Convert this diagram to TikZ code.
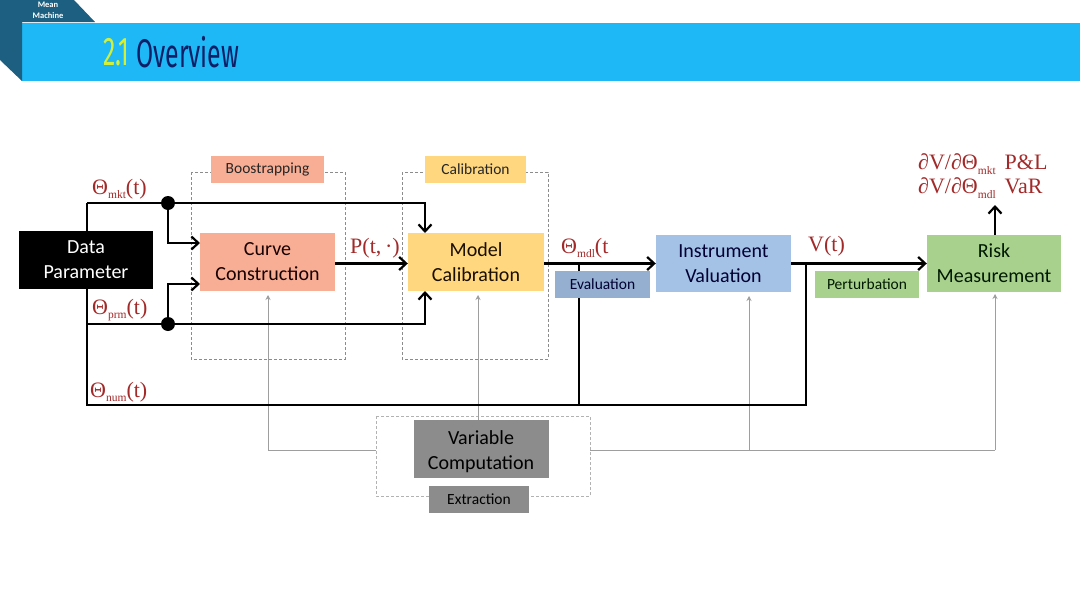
\documentclass[tikz,border=0pt]{standalone}
\usepackage{fontspec}
\setmainfont{Carlito}
\newfontfamily\lserif{Liberation Serif}
\newfontfamily\titlefont{Fira Sans}[FakeStretch=0.62]
\usetikzlibrary{arrows.meta,calc}
\newcommand{\lowtxt}[1]{\raisebox{-4.5pt}{\fontsize{11.5}{11.5}\selectfont #1}}
\definecolor{banner}{HTML}{1FB8F6}
\definecolor{tealdark}{HTML}{1D5F80}
\definecolor{navytitle}{HTML}{0B1F66}
\definecolor{limetitle}{HTML}{D2F03A}
\definecolor{redlabel}{HTML}{A32A2A}
\definecolor{salmon}{HTML}{F8AE95}
\definecolor{amber}{HTML}{FFD77F}
\definecolor{bluebox}{HTML}{A4C2E6}
\definecolor{greenbox}{HTML}{A9D18E}
\definecolor{greybox}{HTML}{8C8C8C}
\tikzset{
  x=1pt,y=-1pt,
  mainbox/.style={rectangle,inner sep=0pt,minimum width=135pt,minimum height=58pt,align=center,font=\fontsize{20}{25}\selectfont},
  tagbox/.style={rectangle,inner sep=0pt,minimum height=27pt,font=\fontsize{15.5}{16}\selectfont},
  groupbox/.style={draw=black!45,densely dashed,line width=0.6pt},
  flow/.style={draw=black,line width=2.2pt,-{Straight Barb[length=7pt,width=13pt,line width=2.2pt]}},
  plain/.style={draw=black,line width=2.2pt},
  link/.style={draw=black!38,line width=0.8pt,-{Stealth[length=5pt,width=5pt]}},
  linkplain/.style={draw=black!38,line width=0.8pt},
  dot/.style={circle,fill=black,inner sep=0pt,minimum size=14pt},
  vallabel/.style={text=redlabel,inner sep=0pt,font=\lserif\fontsize{22}{24}\selectfont,anchor=west},
}
\begin{document}
\begin{tikzpicture}
\useasboundingbox (0,0) rectangle (1080,608);
\fill[white] (0,0) rectangle (1080,608);
% header
\fill[banner] (22,23) rectangle (1080,81);
\fill[tealdark] (0,0) -- (74,0) -- (95,22) -- (22,22) -- (22,81) -- (0,60) -- cycle;
\node[text=white,inner sep=0pt,align=center,font=\bfseries\fontsize{8.5}{11}\selectfont] (brand) at (48,10) {Mean\\Machine};
\node[inner sep=0pt,anchor=west,text=limetitle,font=\titlefont\fontsize{40}{42}\selectfont] (titlenum) at (103,52) {2.1};
\node[inner sep=0pt,anchor=west,text=navytitle,font=\titlefont\fontsize{40}{42}\selectfont] (title) at (136,52) {Overview};
% group frames
\draw[groupbox] (191,172) rectangle (345,359);
\draw[groupbox] (402,172) rectangle (548,359);
\draw[groupbox,black!30] (376,416) rectangle (590,496);
% boxes
\node[mainbox,fill=greybox,text=black] (var) at (481,449) {\rule{0pt}{19pt}Variable\\Computation};
\coordinate (varL) at (376,450);
\coordinate (varR) at (590,450);
\node[mainbox,fill=black,text=white,minimum width=134pt] (data) at (86,260) {Data\\Parameter};
\node[mainbox,fill=salmon,text=black!90!red] (curve) at (267.5,262) {Curve\\Construction};
\node[mainbox,fill=amber,text=black!90!orange,minimum width=136pt] (model) at (476,262) {Model\\Calibration};
\node[mainbox,fill=bluebox,text=black!80!blue,minimum height=57pt] (instr) at (723.5,263.5) {Instrument\\Valuation};
\node[mainbox,fill=greenbox,text=black!90!green,minimum width=134pt,minimum height=57pt] (risk) at (994,263.5) {Risk\\Measurement};
% thin links
\coordinate (curvehead) at (268,295);
\coordinate (modelhead) at (478,295);
\coordinate (riskfoot) at (995,450);
\coordinate (riskhead) at (995,294);
\coordinate (instrfoot) at (749,450);
\coordinate (instrhead) at (749,296);
\coordinate (varT) at (478,420);
\draw[link] (varL) -| (curvehead);
\draw[link] (varT) -- (modelhead);
\draw[linkplain] (varR) -- (riskfoot);
\draw[link] (riskfoot) -- (riskhead);
\draw[link] (instrfoot) -- (instrhead);
% black lines
\coordinate (mktT) at (87,203);
\coordinate (prmB) at (87,324);
\coordinate (numB) at (87,405);
\coordinate (modelT) at (425,233);
\coordinate (modelB) at (425,291);
\coordinate (curveU) at (200,243);
\coordinate (curveD) at (200,284);
\coordinate (riskT) at (995,235);
\coordinate (riskOut) at (995,205);
\node[dot] (dotm) at (168,203) {};
\node[dot] (dotp) at (168,324) {};
\draw[plain] (mktT |- data.north) -- (mktT);
\draw[flow] (mktT) -| (modelT);
\draw[plain] (prmB |- data.south) -- (prmB);
\draw[flow] (prmB) -| (modelB);
\draw[flow] (dotm) |- (curveU);
\draw[flow] (dotp) |- (curveD);
\draw[flow] (curve.east |- instr.west) -- (model.west |- instr.west);
\draw[flow] (model.east |- instr.west) -- (instr.west);
\draw[flow] (instr.east) -- (risk.west);
\draw[flow] (riskT) -- (riskOut);
\draw[plain] (prmB) -- (numB) -- (806,405) -- (806,263.5);
\coordinate (evalfoot) at (579,405);
\draw[plain] (evalfoot) -- (579,263.5);
% tags
\node[tagbox,fill=salmon,text=black!85,minimum width=113pt] (tagboot) at (267.5,169) {Boostrapping};
\node[tagbox,fill=amber,text=black!85,minimum width=101pt] (tagcal) at (475.5,169) {Calibration};
\node[tagbox,fill=bluebox!90!black,text=black!80!blue,minimum width=95pt] (tageval) at (602.5,284.5) {Evaluation};
\node[tagbox,fill=greenbox,text=black!90!green,minimum width=104pt] (tagpert) at (867,284.5) {Perturbation};
\node[tagbox,fill=greybox,text=black,minimum width=100pt] (tagext) at (479,499.5) {Extraction};
% value labels
\node[vallabel] (lmkt) at (92,189) {Θ\lowtxt{mkt}(t)};
\node[vallabel] (lprm) at (92,310) {Θ\lowtxt{prm}(t)};
\node[vallabel] (lnum) at (90,392) {Θ\lowtxt{num}(t)};
\node[vallabel] (lp) at (350,248) {P(t,\,·)};
\node[vallabel] (lmdl) at (561,248) {Θ\lowtxt{mdl}(t};
\node[vallabel] (lv) at (808,246) {V(t)};
\node[vallabel] (lrisk1) at (918,164) {∂V/∂Θ\lowtxt{mkt}\hspace{9pt}P\&L};
\node[vallabel] (lrisk2) at (918,188) {∂V/∂Θ\lowtxt{mdl}\hspace{9pt}VaR};
\end{tikzpicture}
\end{document}
